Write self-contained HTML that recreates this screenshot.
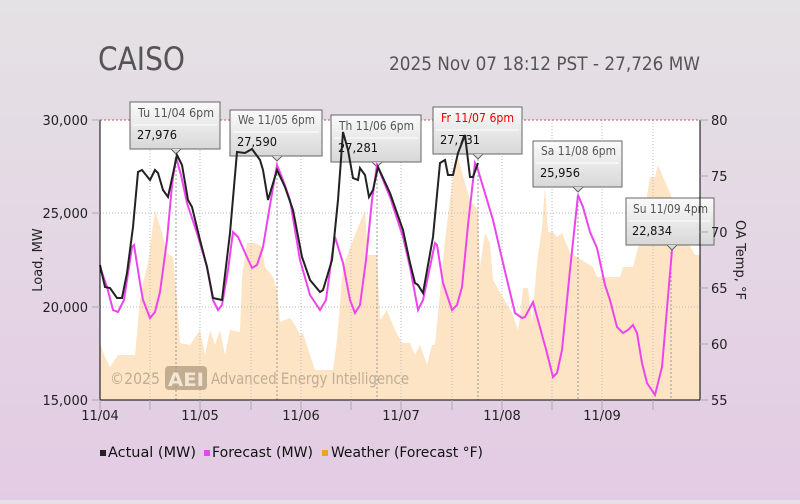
<!DOCTYPE html>
<html><head><meta charset="utf-8"><style>
html,body{margin:0;padding:0}
body{width:800px;height:500px;overflow:hidden;background:linear-gradient(#e4e2e4,#e3cbe4 100%);font-family:"DejaVu Sans","Liberation Sans",sans-serif}
svg text{font-family:"DejaVu Sans","Liberation Sans",sans-serif}
</style></head><body>
<svg width="800" height="500" xmlns="http://www.w3.org/2000/svg">
<defs>
<linearGradient id="tg" x1="0" y1="0" x2="0" y2="1"><stop offset="0" stop-color="#fafafa"/><stop offset="1" stop-color="#d8d8d8"/></linearGradient>
</defs>
<text x="98" y="70" font-size="32" fill="#555" textLength="87" lengthAdjust="spacingAndGlyphs">CAISO</text>
<text x="389" y="70" font-size="19" fill="#555" textLength="311" lengthAdjust="spacingAndGlyphs">2025 Nov 07 18:12 PST - 27,726 MW</text>
<rect x="100" y="120" width="600" height="280" fill="#fff"/>
<!-- weather -->
<polygon fill="#fde4c4" points="100,400 100,343 105,357 110,367 118,355 135,355 140,300 143,283 148,263 155,210 162,233 167,253 173,257 177,300 180,343 190,345 200,330 205,355 210,330 215,345 220,330 225,355 230,330 240,332 242,277 247,243 255,243 262,247 265,267 273,277 277,290 280,322 290,318 295,325 300,335 303,333 310,355 315,370 333,370 337,340 343,267 353,240 365,210 368,255 377,255 380,320 387,310 395,330 402,343 410,343 415,355 420,345 427,365 432,345 435,345 440,293 445,240 455,160 458,158 467,190 470,200 478,210 480,267 485,233 490,243 493,280 497,287 512,313 518,330 520,317 523,288 528,288 532,323 537,263 542,227 545,187 548,232 553,232 557,237 562,233 570,253 577,257 593,267 597,277 620,277 623,267 633,267 640,240 650,177 655,177 658,165 670,193 680,223 687,240 695,255 700,255 700,400"/>
<!-- grid -->
<g stroke="#bbb" stroke-dasharray="1,2" stroke-width="1">
<line x1="100" y1="213" x2="700" y2="213"/><line x1="100" y1="307" x2="700" y2="307"/>
<line x1="150" y1="120" x2="150" y2="400"/><line x1="251" y1="120" x2="251" y2="400"/><line x1="351" y1="120" x2="351" y2="400"/><line x1="452" y1="120" x2="452" y2="400"/><line x1="552" y1="120" x2="552" y2="400"/><line x1="653" y1="120" x2="653" y2="400"/>
<line x1="200" y1="120" x2="200" y2="400"/><line x1="301" y1="120" x2="301" y2="400"/><line x1="401" y1="120" x2="401" y2="400"/><line x1="502" y1="120" x2="502" y2="400"/><line x1="602" y1="120" x2="602" y2="400"/>
</g>
<g stroke="#999" stroke-dasharray="2,2" stroke-width="1">
<line x1="176" y1="150" x2="176" y2="400"/><line x1="277" y1="158" x2="277" y2="400"/><line x1="377" y1="163" x2="377" y2="400"/><line x1="478" y1="155" x2="478" y2="400"/><line x1="578" y1="193" x2="578" y2="400"/><line x1="671" y1="248" x2="671" y2="400"/>
</g>
<line x1="100" y1="120" x2="700" y2="120" stroke="#b55" stroke-dasharray="2,2"/>
<text x="110" y="384" font-size="16" fill="#b5a48f" opacity="0.85" textLength="50" lengthAdjust="spacingAndGlyphs">©2025</text>
<rect x="165" y="366" width="42" height="24" rx="4" fill="#a8957a" opacity="0.7"/>
<text x="168" y="386" font-size="19" fill="#f3e6d4" font-weight="bold" textLength="36" lengthAdjust="spacingAndGlyphs">AEI</text>
<text x="211" y="384" font-size="16" fill="#b5a48f" opacity="0.85" textLength="198" lengthAdjust="spacingAndGlyphs">Advanced Energy Intelligence</text>
<!-- tooltips -->
<g font-size="12">
<g><rect x="130" y="102" width="90" height="47" fill="url(#tg)" stroke="#666"/><line x1="133" y1="125" x2="217" y2="125" stroke="#fff"/><path d="M171,149 L176,154 L181,149" fill="#d8d8d8" stroke="#666"/><text x="138" y="117" fill="#555" textLength="76" lengthAdjust="spacingAndGlyphs">Tu 11/04 6pm</text><text x="137" y="139" fill="#111" textLength="40" lengthAdjust="spacingAndGlyphs">27,976</text></g>
<g><rect x="230" y="110" width="92" height="46" fill="url(#tg)" stroke="#666"/><line x1="233" y1="132" x2="319" y2="132" stroke="#fff"/><path d="M272,156 L277,161 L282,156" fill="#d8d8d8" stroke="#666"/><text x="238" y="124" fill="#555" textLength="77" lengthAdjust="spacingAndGlyphs">We 11/05 6pm</text><text x="237" y="146" fill="#111" textLength="40" lengthAdjust="spacingAndGlyphs">27,590</text></g>
<g><rect x="331" y="115" width="90" height="47" fill="url(#tg)" stroke="#666"/><line x1="334" y1="138" x2="418" y2="138" stroke="#fff"/><path d="M372,162 L377,167 L382,162" fill="#d8d8d8" stroke="#666"/><text x="339" y="130" fill="#555" textLength="75" lengthAdjust="spacingAndGlyphs">Th 11/06 6pm</text><text x="338" y="152" fill="#111" textLength="40" lengthAdjust="spacingAndGlyphs">27,281</text></g>
<g><rect x="433" y="107" width="89" height="47" fill="url(#tg)" stroke="#666"/><line x1="436" y1="130" x2="519" y2="130" stroke="#fff"/><path d="M473,154 L478,159 L483,154" fill="#d8d8d8" stroke="#666"/><text x="441" y="122" fill="#e00" textLength="73" lengthAdjust="spacingAndGlyphs">Fr 11/07 6pm</text><text x="440" y="144" fill="#111" textLength="40" lengthAdjust="spacingAndGlyphs">27,731</text></g>
<g><rect x="533" y="141" width="89" height="46" fill="url(#tg)" stroke="#666"/><line x1="536" y1="163" x2="619" y2="163" stroke="#fff"/><path d="M573,187 L578,192 L583,187" fill="#d8d8d8" stroke="#666"/><text x="541" y="155" fill="#555" textLength="75" lengthAdjust="spacingAndGlyphs">Sa 11/08 6pm</text><text x="540" y="177" fill="#111" textLength="40" lengthAdjust="spacingAndGlyphs">25,956</text></g>
<g><rect x="626" y="198" width="88" height="47" fill="url(#tg)" stroke="#666"/><line x1="629" y1="221" x2="711" y2="221" stroke="#fff"/><path d="M667,245 L672,250 L677,245" fill="#d8d8d8" stroke="#666"/><text x="633" y="213" fill="#555" textLength="75" lengthAdjust="spacingAndGlyphs">Su 11/09 4pm</text><text x="632" y="235" fill="#111" textLength="40" lengthAdjust="spacingAndGlyphs">22,834</text></g>
</g>
<!-- forecast -->
<polyline fill="none" stroke="#ee44ee" stroke-width="2" points="100,267 107,287 113,310 118,312 124,300 132,247 134,245 140,283 143,300 150,318 155,312 160,292 167,240 172,185 176,157 181,175 187,203 197,233 207,267 213,300 218,310 222,305 228,270 233,232 238,237 246,255 252,268 257,265 263,247 270,205 277,165 283,180 290,200 300,260 310,295 320,310 326,300 332,255 335,237 343,263 350,300 355,313 360,305 366,260 372,200 377,165 390,197 403,237 410,267 418,310 423,300 435,243 437,245 443,283 452,310 457,305 462,287 468,225 475,163 478,170 493,220 503,263 515,313 522,318 525,317 533,302 547,353 553,377 557,373 562,350 570,270 578,195 583,207 590,232 597,248 605,285 610,300 617,327 623,333 628,330 633,325 637,333 642,363 647,383 655,395 662,367 672,250"/>
<!-- actual -->
<polyline fill="none" stroke="#222" stroke-width="2" points="100,265 105,287 110,288 117,298 122,298 127,273 133,227 138,172 142,170 150,180 155,170 158,173 163,190 168,197 177,155 182,165 188,200 192,207 200,240 207,267 213,298 222,300 230,233 237,152 245,153 252,149 260,160 263,170 268,200 277,170 285,187 293,210 302,257 310,280 320,292 323,290 332,260 338,200 343,132 348,150 353,178 358,180 360,168 365,175 369,197 373,190 378,167 390,193 403,230 410,263 415,283 418,285 423,293 433,237 440,163 445,160 448,175 453,175 458,153 465,135 470,177 473,177 478,163"/>
<!-- axes -->
<line x1="100" y1="120" x2="100" y2="400" stroke="#000"/>
<line x1="700" y1="120" x2="700" y2="400" stroke="#000"/>
<line x1="100" y1="400" x2="700" y2="400" stroke="#000"/>
<g stroke="#aaa">
<line x1="92" y1="120" x2="100" y2="120"/><line x1="92" y1="213" x2="100" y2="213"/><line x1="92" y1="307" x2="100" y2="307"/><line x1="92" y1="400" x2="100" y2="400"/>
<line x1="700" y1="120" x2="708" y2="120"/><line x1="700" y1="176" x2="708" y2="176"/><line x1="700" y1="232" x2="708" y2="232"/><line x1="700" y1="288" x2="708" y2="288"/><line x1="700" y1="344" x2="708" y2="344"/><line x1="700" y1="400" x2="708" y2="400"/>
<line x1="100" y1="400" x2="100" y2="410"/><line x1="200" y1="400" x2="200" y2="410"/><line x1="301" y1="400" x2="301" y2="410"/><line x1="401" y1="400" x2="401" y2="410"/><line x1="502" y1="400" x2="502" y2="410"/><line x1="602" y1="400" x2="602" y2="410"/>
<line x1="150" y1="400" x2="150" y2="410"/><line x1="251" y1="400" x2="251" y2="410"/><line x1="351" y1="400" x2="351" y2="410"/><line x1="452" y1="400" x2="452" y2="410"/><line x1="552" y1="400" x2="552" y2="410"/><line x1="653" y1="400" x2="653" y2="410"/>
</g>
<g font-size="13" fill="#222" text-anchor="end">
<text x="88" y="125">30,000</text><text x="88" y="218">25,000</text><text x="88" y="312">20,000</text><text x="88" y="405">15,000</text>
</g>
<g font-size="13" fill="#222">
<text x="711" y="125">80</text><text x="711" y="181">75</text><text x="711" y="237">70</text><text x="711" y="293">65</text><text x="711" y="349">60</text><text x="711" y="405">55</text>
</g>
<g font-size="13" fill="#222" text-anchor="middle">
<text x="100" y="420">11/04</text><text x="200" y="420">11/05</text><text x="301" y="420">11/06</text><text x="401" y="420">11/07</text><text x="502" y="420">11/08</text><text x="602" y="420">11/09</text>
</g>
<text transform="translate(42,260) rotate(-90)" font-size="13" fill="#222" text-anchor="middle">Load, MW</text>
<text transform="translate(736,260) rotate(90)" font-size="13" fill="#222" text-anchor="middle">OA Temp, °F</text>
<!-- legend -->
<g font-size="14" fill="#111">
<rect x="100" y="450" width="6" height="6" fill="#222"/><text x="108" y="457" textLength="88" lengthAdjust="spacingAndGlyphs">Actual (MW)</text>
<rect x="204" y="450" width="6" height="6" fill="#ee44ee"/><text x="212" y="457" textLength="101" lengthAdjust="spacingAndGlyphs">Forecast (MW)</text>
<rect x="322" y="450" width="6" height="6" fill="#f5a020"/><text x="331" y="457" textLength="152" lengthAdjust="spacingAndGlyphs">Weather (Forecast °F)</text>
</g>
</svg>
</body></html>
